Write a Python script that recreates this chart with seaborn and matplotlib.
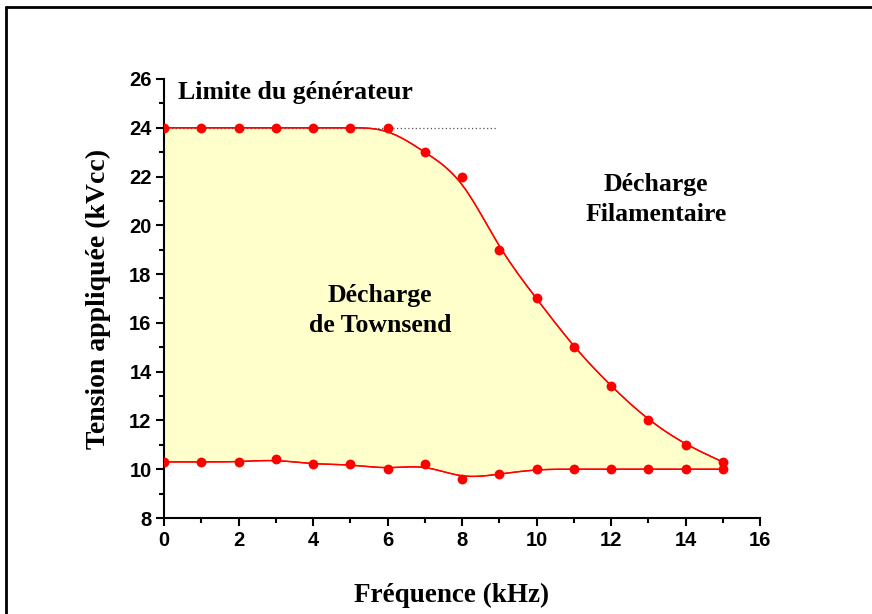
import numpy as np
import pandas as pd
import seaborn as sns
import matplotlib.pyplot as plt
from matplotlib.lines import Line2D
from matplotlib.ticker import MultipleLocator

# données
freq = [0, 1, 2, 3, 4, 5, 6, 7, 8, 9, 10, 11, 12, 13, 14, 15]
v_haut = [24, 24, 24, 24, 24, 24, 24, 23, 22, 19, 17, 15, 13.4, 12, 11, 10.3]
v_bas = [10.3, 10.3, 10.3, 10.4, 10.2, 10.2, 10.0, 10.2, 9.6, 9.8, 10.0, 10.0, 10.0, 10.0, 10.0, 10.0]
limite_gen = 24
limite_fin = 8.9


def bspline(x, y, n=30):
    # B-spline cubique uniforme (comme le lissage d'Origin)
    px = np.r_[x[0], x[0], x, x[-1], x[-1]].astype(float)
    py = np.r_[y[0], y[0], y, y[-1], y[-1]].astype(float)
    t = np.linspace(0, 1, n, endpoint=False)
    b0 = (1 - t) ** 3 / 6
    b1 = (3 * t**3 - 6 * t**2 + 4) / 6
    b2 = (-3 * t**3 + 3 * t**2 + 3 * t + 1) / 6
    b3 = t**3 / 6
    xs, ys = [], []
    for i in range(len(px) - 3):
        xs.append(b0 * px[i] + b1 * px[i + 1] + b2 * px[i + 2] + b3 * px[i + 3])
        ys.append(b0 * py[i] + b1 * py[i + 1] + b2 * py[i + 2] + b3 * py[i + 3])
    xs.append([px[-1]])
    ys.append([py[-1]])
    return np.concatenate(xs), np.concatenate(ys)


xs, up = bspline(freq, v_haut)
_, lo = bspline(freq, v_bas)

df_pts = pd.DataFrame({'f': freq * 2, 'v': v_haut + v_bas})
df_up = pd.DataFrame({'f': xs, 'v': up})
df_lo = pd.DataFrame({'f': xs, 'v': lo})

sns.set_style('ticks')
plt.rcParams['font.family'] = ['Liberation Sans', 'DejaVu Sans']
plt.rcParams['text.color'] = 'black'
plt.rcParams['axes.labelcolor'] = 'black'
plt.rcParams['xtick.color'] = 'black'
plt.rcParams['ytick.color'] = 'black'

fig = plt.figure(figsize=(8.72, 6.14), dpi=100)
ax = fig.add_axes([164 / 872, 96 / 614, 596 / 872, 439 / 614])

ax.fill(np.r_[xs, xs[::-1]], np.r_[up, lo[::-1]], facecolor='#FFFFCC', edgecolor='red', lw=1, zorder=1)
ax.plot([0, limite_fin], [limite_gen, limite_gen], ls=(0, (1, 2)), color='#555555', lw=0.9, zorder=2)
sns.lineplot(data=df_up, x='f', y='v', sort=False, color='red', lw=1, ax=ax, zorder=3)
sns.lineplot(data=df_lo, x='f', y='v', sort=False, color='red', lw=1, ax=ax, zorder=3)
sns.scatterplot(data=df_pts, x='f', y='v', color='red', s=50, edgecolor='red', linewidth=0, ax=ax, zorder=4)

ax.set_xlim(0, 16)
ax.set_ylim(8, 26)
ax.xaxis.set_major_locator(MultipleLocator(2))
ax.xaxis.set_minor_locator(MultipleLocator(1))
ax.yaxis.set_major_locator(MultipleLocator(2))
ax.yaxis.set_minor_locator(MultipleLocator(1))
sns.despine(ax=ax)
for s in ['left', 'bottom']:
    ax.spines[s].set_linewidth(1.5)
    ax.spines[s].set_color('black')
ax.tick_params(which='major', direction='out', length=6, width=1.5, labelsize=14.5, pad=3)
ax.tick_params(which='minor', direction='out', length=3.5, width=1.5)
for lab in ax.get_xticklabels() + ax.get_yticklabels():
    lab.set_fontweight('bold')

serif = dict(family=['Liberation Serif', 'DejaVu Serif'], fontweight='bold')
ax.set_xlabel('Fréquence (kHz)', fontsize=19.5, labelpad=24, **serif)
ax.xaxis.set_label_coords(0.482, -0.147)
ax.set_ylabel('Tension appliquée (kVcc)', fontsize=20, labelpad=13, **serif)

ax.text(0.38, 25.45, 'Limite du générateur', fontsize=18.5, ha='left', va='center', **serif)
ax.text(13.2, 21.05, 'Décharge\nFilamentaire', fontsize=18.5, ha='center', va='center', linespacing=1.4, **serif)
ax.text(5.8, 16.5, 'Décharge\nde Townsend', fontsize=18.5, ha='center', va='center', linespacing=1.4, **serif)

# cadre autour de la figure (haut et gauche)
fig.add_artist(Line2D([6 / 872, 1], [1 - 7 / 614, 1 - 7 / 614], color='black', lw=2, transform=fig.transFigure))
fig.add_artist(Line2D([6 / 872, 6 / 872], [0, 1 - 7 / 614], color='black', lw=2, transform=fig.transFigure))

fig.savefig('out.png', dpi=100)
